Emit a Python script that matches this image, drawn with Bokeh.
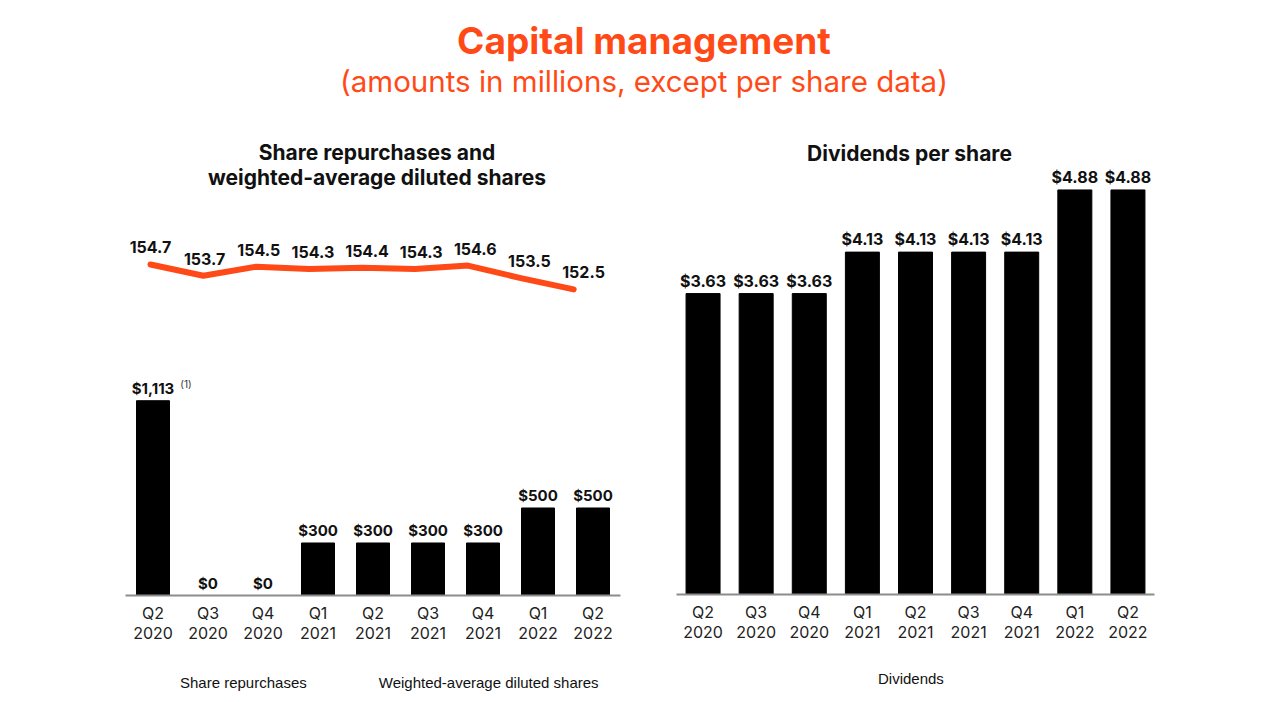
from bokeh.plotting import figure
from bokeh.models import (FactorRange, Range1d, ColumnDataSource, Label, Legend, LegendItem,
                          FixedTicker)
from bokeh.layouts import column, row
from bokeh.embed import file_html
from bokeh.resources import INLINE
from bokeh.core.properties import value

# ---------------- data ----------------
quarters = ["Q2\n2020", "Q3\n2020", "Q4\n2020", "Q1\n2021", "Q2\n2021",
            "Q3\n2021", "Q4\n2021", "Q1\n2022", "Q2\n2022"]
repurchases = [1113, 0, 0, 300, 300, 300, 300, 500, 500]
repurchase_notes = ["(1)", "", "", "", "", "", "", "", ""]
diluted_shares = [154.7, 153.7, 154.5, 154.3, 154.4, 154.3, 154.6, 153.5, 152.5]
dividends = [3.63, 3.63, 3.63, 4.13, 4.13, 4.13, 4.13, 4.88, 4.88]

main_title = "Capital management"
sub_title = "(amounts in millions, except per share data)"
left_title = ["Share repurchases and", "weighted-average diluted shares"]
right_title = "Dividends per share"
legend_left = ["Share repurchases", "Weighted-average diluted shares"]
legend_right = ["Dividends"]

# ---------------- style ----------------
ORANGE = "#ff4a17"
FONT = "Inter"
W = 1280

# ---------------- header ----------------
hdr = figure(width=W, height=108, x_range=Range1d(0, 1), y_range=Range1d(0, 1),
             toolbar_location=None, output_backend="svg", min_border=0,
             outline_line_color=None)
hdr.axis.visible = False
hdr.grid.visible = False
hdr.add_layout(Label(x=0.5027, y=0.630, text=main_title, text_align="center",
                     text_baseline="middle", text_font=FONT, text_font_style="bold",
                     text_font_size="37px", text_color=ORANGE))
hdr.add_layout(Label(x=0.5027, y=0.259, text=sub_title, text_align="center",
                     text_baseline="middle", text_font=FONT, text_font_size="29.5px",
                     text_color=ORANGE))


def style_axes(p):
    p.yaxis.visible = False
    p.grid.visible = False
    p.outline_line_color = None
    ax = p.xaxis[0]
    ax.axis_line_color = "#8c8c8c"
    ax.axis_line_width = 2
    ax.major_tick_line_color = None
    ax.minor_tick_line_color = None
    ax.major_label_standoff = 1
    ax.major_label_text_font = FONT
    ax.major_label_text_font_size = "16px"
    ax.major_label_text_line_height = 1.0
    ax.major_label_text_color = "#222222"


# ---------------- left chart ----------------
idx = list(range(len(quarters)))
rep_src = ColumnDataSource(dict(
    i=idx, rep=repurchases,
    lbl=[f"${v:,}" for v in repurchases],
    note=repurchase_notes))
sh_src = ColumnDataSource(dict(
    i=idx, sh=diluted_shares,
    lbl=[f"{v:.1f}" for v in diluted_shares]))

left = figure(frame_width=495, frame_height=465, x_range=Range1d(-0.5, len(quarters) - 0.5),
              y_range=Range1d(0, 2657), toolbar_location=None, output_backend="svg",
              min_border_left=125, min_border_right=20, min_border_top=22,
              min_border_bottom=60)
left.extra_y_ranges = {"shares": Range1d(125.56, 166.49)}
left.extra_x_ranges = {"line_x": Range1d(-0.4726, 8.885), "lbl_x": Range1d(-0.462, 8.683)}
style_axes(left)
left.xaxis[0].ticker = FixedTicker(ticks=idx, minor_ticks=[])
left.xaxis[0].major_label_overrides = {i: q for i, q in zip(idx, quarters)}

left.vbar(x="i", top="rep", width=0.6, source=rep_src, color="black")
left.text(x="i", y="rep", text="lbl", source=rep_src, text_align="center",
          text_baseline="bottom", y_offset=-3, text_font=value(FONT),
          text_font_style="bold", text_font_size="15px", text_color="#111111")
left.text(x="i", y="rep", text="note", source=rep_src, text_align="center",
          text_baseline="middle", x_offset=33, y_offset=-17, text_font=value(FONT),
          text_font_size="10px", text_color="#333333")
left.line(x="i", y="sh", source=sh_src, x_range_name="line_x",
          y_range_name="shares", line_width=6, color=ORANGE,
          line_cap="round", line_join="round")
left.text(x="i", y="sh", text="lbl", source=sh_src, x_range_name="lbl_x",
          y_range_name="shares", text_align="center", text_baseline="middle",
          y_offset=-17, text_font=value(FONT), text_font_style="bold",
          text_font_size="16px", text_color="#111111")

for yv, t in zip([2531, 2389], left_title):
    left.add_layout(Label(x=4.0, x_offset=4, y=yv, text=t, text_align="center",
                          text_baseline="middle", text_font=FONT, text_font_style="bold",
                          text_font_size="21px", text_color="#111111"))

# ---------------- right chart ----------------
div_src = ColumnDataSource(dict(q=quarters, d=dividends,
                                lbl=[f"${v:.2f}" for v in dividends]))
right = figure(frame_width=478, frame_height=464, x_range=FactorRange(*quarters, range_padding=0),
               y_range=Range1d(0, 5.597), toolbar_location=None, output_backend="svg",
               min_border_left=36, min_border_right=118, min_border_top=22,
               min_border_bottom=61)
style_axes(right)
right.vbar(x="q", top="d", width=0.64, source=div_src, color="black")
right.text(x="q", y="d", text="lbl", source=div_src, text_align="center",
           text_baseline="bottom", y_offset=-3, text_font=value(FONT),
           text_font_style="bold", text_font_size="16px", text_color="#111111")
right.add_layout(Label(x=4.5, x_offset=-6, y=5.32, text=right_title, text_align="center",
                       text_baseline="middle", text_font=FONT, text_font_style="bold",
                       text_font_size="21px", text_color="#111111"))


# ---------------- legend strips ----------------
def legend_fig(width, height):
    f = figure(width=width, height=height, x_range=Range1d(0, 1), y_range=Range1d(0, 1),
               toolbar_location=None, output_backend="svg", min_border=0,
               outline_line_color=None)
    f.axis.visible = False
    f.grid.visible = False
    return f


LEG_STYLE = dict(orientation="horizontal", border_line_color=None, background_fill_alpha=0,
                 label_text_font="Liberation Sans", label_text_font_size="15px",
                 label_text_color="#111111", glyph_width=24, glyph_height=24,
                 label_standoff=10, padding=2, margin=0)

lf = legend_fig(640, 44)
lb = lf.vbar(x="x", top="t", width=0.6, color="black",
             source=ColumnDataSource(dict(x=[], t=[])))
ll = lf.line(x="x", y="y", line_width=6, color=ORANGE, line_cap="round",
             source=ColumnDataSource(dict(x=[], y=[])))
lf.add_layout(Legend(items=[LegendItem(label=legend_left[0], renderers=[lb]),
                            LegendItem(label=legend_left[1], renderers=[ll])],
                     location=(146, 5), spacing=38, **LEG_STYLE))

rf = legend_fig(632, 44)
rb = rf.vbar(x="x", top="t", width=0.6, color="black",
             source=ColumnDataSource(dict(x=[], t=[])))
rf.add_layout(Legend(items=[LegendItem(label=legend_right[0], renderers=[rb])],
                     location=(204, 9), **LEG_STYLE))

page = column(hdr, row(left, right), row(lf, rf))
open("out.html", "w").write(file_html(page, INLINE))
